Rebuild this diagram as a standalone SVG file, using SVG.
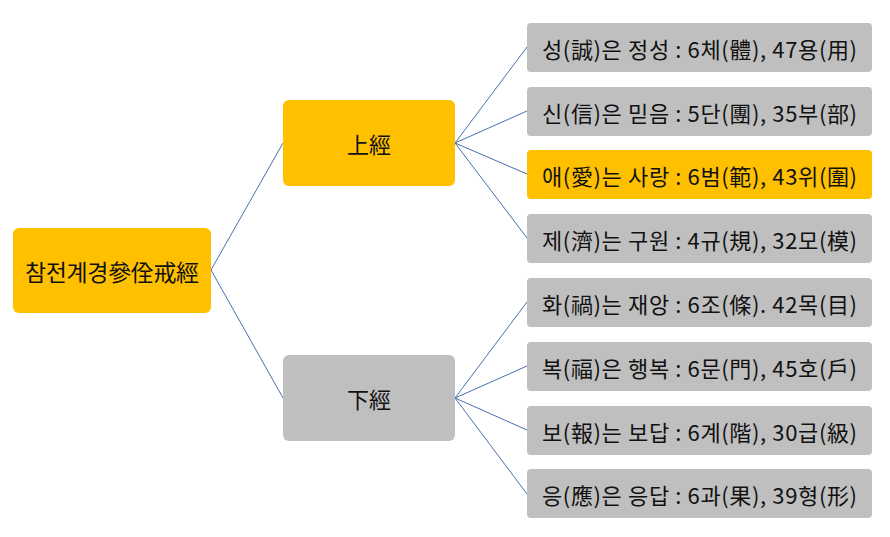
<svg xmlns="http://www.w3.org/2000/svg" width="890" height="537" viewBox="0 0 890 537">
<style>
.o{fill:#FFC000}
.g{fill:#BFBFBF}
text{font-family:"Noto Sans CJK KR","Noto Sans CJK SC",sans-serif;fill:#111;text-anchor:middle;dominant-baseline:central}
.s{font-size:22px}
.m{font-size:22px}
.r{font-size:23px}
.c line{stroke:#4A6FB0;stroke-width:1}
</style>
<rect width="890" height="537" fill="#fff"/>
<g class="c" id="connectors">
<line x1="211" y1="270" x2="283" y2="143"/>
<line x1="211" y1="270" x2="283" y2="398"/>
<line x1="455" y1="143" x2="527" y2="47"/>
<line x1="455" y1="143" x2="527" y2="111"/>
<line x1="455" y1="143" x2="527" y2="174"/>
<line x1="455" y1="143" x2="527" y2="238"/>
<line x1="455" y1="398" x2="527" y2="302"/>
<line x1="455" y1="398" x2="527" y2="366"/>
<line x1="455" y1="398" x2="527" y2="430"/>
<line x1="455" y1="398" x2="527" y2="494"/>
</g>
<g id="root"><rect class="o" x="13" y="228" width="198" height="85" rx="6"/><text class="r" x="112" y="270.5" textLength="174" lengthAdjust="spacing">참전계경參佺戒經</text></g>
<g id="upper"><rect class="o" x="283" y="100" width="172" height="86" rx="6"/><text class="m" x="369" y="143">上經</text></g>
<g id="lower"><rect class="g" x="283" y="355" width="172" height="86" rx="6"/><text class="m" x="369" y="398">下經</text></g>
<g id="n1"><rect class="g" x="527" y="23" width="345" height="49" rx="4"/><text class="s" x="699.5" y="47.5" textLength="315" lengthAdjust="spacing">성(誠)은 정성 : 6체(體), 47용(用)</text></g>
<g id="n2"><rect class="g" x="527" y="87" width="345" height="49" rx="4"/><text class="s" x="699.5" y="111.5" textLength="315" lengthAdjust="spacing">신(信)은 믿음 : 5단(團), 35부(部)</text></g>
<g id="n3"><rect class="o" x="527" y="150" width="345" height="49" rx="4"/><text class="s" x="699.5" y="174.5" textLength="315" lengthAdjust="spacing">애(愛)는 사랑 : 6범(範), 43위(圍)</text></g>
<g id="n4"><rect class="g" x="527" y="214" width="345" height="49" rx="4"/><text class="s" x="699.5" y="238.5" textLength="315" lengthAdjust="spacing">제(濟)는 구원 : 4규(規), 32모(模)</text></g>
<g id="n5"><rect class="g" x="527" y="278" width="345" height="49" rx="4"/><text class="s" x="699.5" y="302.5" textLength="315" lengthAdjust="spacing">화(禍)는 재앙 : 6조(條). 42목(目)</text></g>
<g id="n6"><rect class="g" x="527" y="342" width="345" height="49" rx="4"/><text class="s" x="699.5" y="366.5" textLength="315" lengthAdjust="spacing">복(福)은 행복 : 6문(門), 45호(戶)</text></g>
<g id="n7"><rect class="g" x="527" y="406" width="345" height="49" rx="4"/><text class="s" x="699.5" y="430.5" textLength="315" lengthAdjust="spacing">보(報)는 보답 : 6계(階), 30급(級)</text></g>
<g id="n8"><rect class="g" x="527" y="469" width="345" height="49" rx="4"/><text class="s" x="699.5" y="493.5" textLength="315" lengthAdjust="spacing">응(應)은 응답 : 6과(果), 39형(形)</text></g>
</svg>
